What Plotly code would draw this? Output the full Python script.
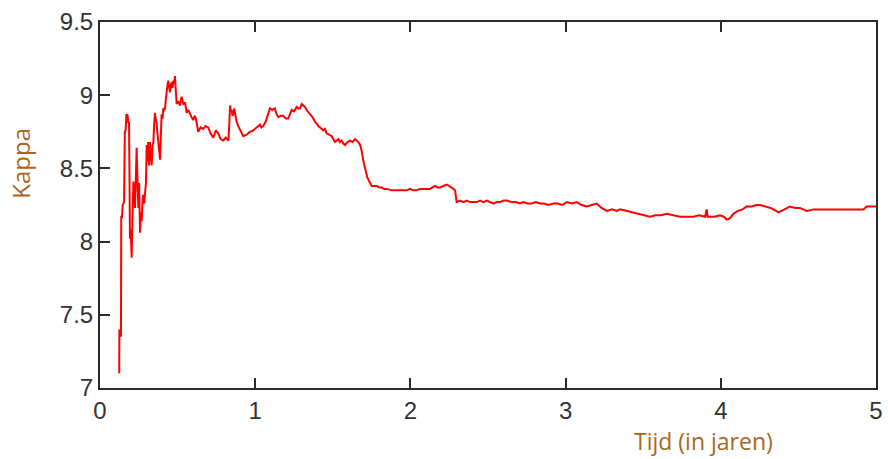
import plotly.graph_objects as go

# Time in years and the running Kappa estimate
tijd = [
    0.124, 0.125, 0.128, 0.132, 0.135, 0.137, 0.142, 0.146, 0.150, 0.155,
    0.160, 0.165, 0.170, 0.178, 0.182, 0.187, 0.190, 0.193, 0.198, 0.204,
    0.208, 0.212, 0.215, 0.220, 0.2255, 0.230, 0.236, 0.241, 0.247, 0.252,
    0.258, 0.263, 0.269, 0.274, 0.279, 0.285, 0.290, 0.296, 0.301, 0.306,
    0.311, 0.316, 0.322, 0.328, 0.333, 0.339, 0.344, 0.349, 0.354, 0.360,
    0.365, 0.370, 0.376, 0.381, 0.387, 0.392, 0.397, 0.403, 0.408, 0.414,
    0.419, 0.425, 0.430, 0.435, 0.440, 0.446, 0.451, 0.457, 0.462, 0.467,
    0.472, 0.478, 0.483, 0.488, 0.494, 0.504, 0.515, 0.526, 0.537, 0.548,
    0.558, 0.569, 0.580, 0.590, 0.601, 0.610, 0.618, 0.626, 0.633, 0.648,
    0.665, 0.680, 0.697, 0.712, 0.730, 0.747, 0.762, 0.777, 0.795, 0.810,
    0.827, 0.833, 0.838, 0.843, 0.848, 0.854, 0.859, 0.865, 0.870, 0.880,
    0.890, 0.902, 0.913, 0.923, 0.945, 0.966, 0.988, 1.009, 1.031, 1.041,
    1.052, 1.068, 1.085, 1.095, 1.110, 1.127, 1.138, 1.149, 1.165, 1.181,
    1.197, 1.213, 1.224, 1.235, 1.250, 1.267, 1.278, 1.289, 1.300, 1.310,
    1.321, 1.337, 1.353, 1.369, 1.385, 1.396, 1.407, 1.418, 1.429, 1.439,
    1.450, 1.460, 1.476, 1.493, 1.503, 1.514, 1.525, 1.536, 1.546, 1.557,
    1.568, 1.579, 1.595, 1.611, 1.627, 1.643, 1.654, 1.665, 1.676, 1.686,
    1.697, 1.707, 1.715, 1.722, 1.731, 1.740, 1.750, 1.766, 1.783, 1.799,
    1.815, 1.831, 1.847, 1.880, 1.912, 1.944, 1.976, 1.997, 2.019, 2.040,
    2.062, 2.094, 2.126, 2.142, 2.158, 2.174, 2.191, 2.212, 2.234, 2.250,
    2.266, 2.277, 2.288, 2.298, 2.320, 2.342, 2.363, 2.385, 2.406, 2.428,
    2.449, 2.470, 2.492, 2.513, 2.535, 2.556, 2.578, 2.600, 2.621, 2.650,
    2.680, 2.705, 2.728, 2.755, 2.782, 2.808, 2.835, 2.860, 2.890, 2.921,
    2.950, 2.980, 3.007, 3.040, 3.072, 3.104, 3.136, 3.168, 3.200, 3.232,
    3.265, 3.300, 3.330, 3.351, 3.390, 3.437, 3.470, 3.510, 3.544, 3.580,
    3.615, 3.651, 3.690, 3.737, 3.780, 3.823, 3.860, 3.899, 3.905, 3.909,
    3.915, 3.920, 3.960, 3.995, 4.020, 4.038, 4.060, 4.081, 4.110, 4.140,
    4.167, 4.200, 4.230, 4.253, 4.290, 4.320, 4.339, 4.371, 4.410, 4.446,
    4.480, 4.510, 4.553, 4.600, 4.640, 4.682, 4.750, 4.820, 4.880, 4.919,
    4.940, 4.970, 5.000,
]
kappa = [
    7.10, 7.40, 7.36, 7.38, 7.35, 8.17, 8.17, 8.25, 8.26, 8.27,
    8.75, 8.76, 8.87, 8.86, 8.81, 8.82, 8.45, 8.02, 8.08, 7.89,
    8.10, 8.30, 8.41, 8.38, 8.23, 8.40, 8.64, 8.45, 8.23, 8.40,
    8.06, 8.20, 8.14, 8.28, 8.32, 8.26, 8.37, 8.40, 8.66, 8.55,
    8.68, 8.52, 8.68, 8.60, 8.52, 8.66, 8.68, 8.80, 8.88, 8.83,
    8.81, 8.74, 8.68, 8.60, 8.56, 8.72, 8.87, 8.84, 8.91, 8.90,
    8.91, 8.98, 9.05, 9.07, 9.10, 9.06, 9.02, 9.07, 9.09, 9.05,
    9.10, 9.08, 9.13, 9.04, 8.94, 8.96, 8.93, 8.99, 8.94, 8.95,
    8.88, 8.90, 8.87, 8.85, 8.83, 8.86, 8.84, 8.80, 8.75, 8.78,
    8.77, 8.79, 8.78, 8.74, 8.71, 8.76, 8.74, 8.70, 8.69, 8.71,
    8.69, 8.80, 8.93, 8.89, 8.90, 8.86, 8.87, 8.91, 8.87, 8.82,
    8.79, 8.76, 8.74, 8.72, 8.73, 8.75, 8.76, 8.78, 8.80, 8.78,
    8.79, 8.82, 8.88, 8.91, 8.90, 8.91, 8.87, 8.85, 8.86, 8.86,
    8.84, 8.84, 8.87, 8.90, 8.89, 8.92, 8.91, 8.91, 8.94, 8.93,
    8.92, 8.89, 8.87, 8.85, 8.82, 8.80, 8.79, 8.78, 8.77, 8.76,
    8.77, 8.74, 8.73, 8.72, 8.70, 8.68, 8.69, 8.70, 8.68, 8.69,
    8.67, 8.66, 8.68, 8.69, 8.68, 8.70, 8.69, 8.68, 8.66, 8.62,
    8.55, 8.50, 8.47, 8.44, 8.42, 8.40, 8.38, 8.38, 8.38, 8.37,
    8.37, 8.36, 8.36, 8.35, 8.35, 8.35, 8.35, 8.36, 8.35, 8.35,
    8.36, 8.36, 8.36, 8.37, 8.38, 8.37, 8.37, 8.38, 8.39, 8.38,
    8.37, 8.36, 8.35, 8.27, 8.28, 8.27, 8.28, 8.27, 8.27, 8.27,
    8.28, 8.27, 8.28, 8.27, 8.26, 8.27, 8.27, 8.28, 8.28, 8.27,
    8.27, 8.26, 8.27, 8.26, 8.26, 8.27, 8.26, 8.26, 8.25, 8.26,
    8.26, 8.25, 8.27, 8.26, 8.27, 8.25, 8.24, 8.25, 8.26, 8.23,
    8.21, 8.22, 8.21, 8.22, 8.21, 8.20, 8.19, 8.18, 8.17, 8.18,
    8.18, 8.19, 8.18, 8.17, 8.17, 8.17, 8.18, 8.17, 8.20, 8.22,
    8.17, 8.17, 8.17, 8.18, 8.17, 8.15, 8.16, 8.19, 8.21, 8.22,
    8.24, 8.24, 8.25, 8.25, 8.24, 8.23, 8.22, 8.20, 8.22, 8.24,
    8.23, 8.23, 8.21, 8.22, 8.22, 8.22, 8.22, 8.22, 8.22, 8.22,
    8.24, 8.24, 8.24,
]

x_ticks = [0, 1, 2, 3, 4, 5]
x_tick_text = ["0", "1", "2", "3", "4", "5"]
y_ticks = [7.0, 7.5, 8.0, 8.5, 9.0, 9.5]
y_tick_text = ["7", "7.5", "8", "8.5", "9", "9.5"]

x_title = "Tijd (in jaren)"
y_title = "Kappa"

axis_colour = "#2b2b2b"
title_colour = "#a8661c"
tick_font = dict(family="Liberation Sans, Arial, sans-serif", size=24, color="#333333")
title_font = dict(family="Open Sans, Noto Sans, sans-serif", size=24, color=title_colour)
x_title_font = dict(family="Open Sans, Noto Sans, sans-serif", size=23, color=title_colour)

fig = go.Figure()
fig.add_trace(go.Scatter(
    x=tijd, y=kappa, mode="lines",
    line=dict(color="#ff0000", width=2),
    hoverinfo="skip", showlegend=False,
))

fig.update_xaxes(
    range=[0, 5], tickvals=x_ticks, ticktext=x_tick_text,
    ticks="inside", ticklen=10, tickwidth=2, tickcolor=axis_colour,
    showline=True, linecolor=axis_colour, linewidth=2, mirror="ticks",
    showgrid=False, zeroline=False, tickfont=tick_font, automargin=False,
)
fig.update_yaxes(
    range=[7, 9.5], tickvals=y_ticks, ticktext=y_tick_text,
    ticks="inside", ticklen=10, tickwidth=2, tickcolor=axis_colour,
    showline=True, linecolor=axis_colour, linewidth=2, mirror=True,
    showgrid=False, zeroline=False, tickfont=tick_font, automargin=False,
)

fig.add_annotation(
    text=y_title, xref="paper", yref="paper", x=-0.102, y=0.615,
    textangle=-90, showarrow=False, xanchor="center", yanchor="middle",
    font=title_font,
)
fig.add_annotation(
    text=x_title, xref="paper", yref="paper", x=0.778, y=-0.145,
    showarrow=False, xanchor="center", yanchor="middle", font=x_title_font,
    borderpad=0,
)

fig.update_layout(
    width=888, height=459,
    margin=dict(l=100, r=12, t=22, b=71),
    paper_bgcolor="white", plot_bgcolor="white",
)

fig.write_html("out.html")
